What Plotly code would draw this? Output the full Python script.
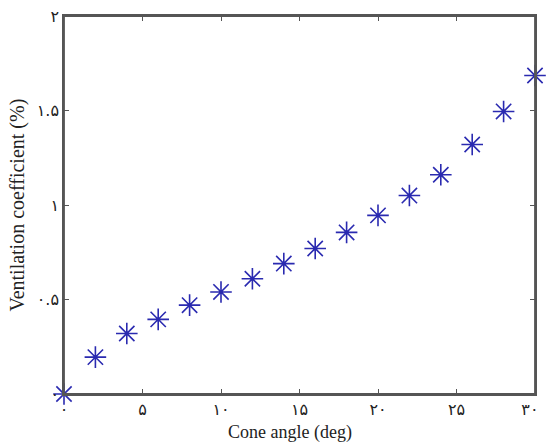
import plotly.graph_objects as go

cone_angle = [0, 2, 4, 6, 8, 10, 12, 14, 16, 18, 20, 22, 24, 26, 28, 30]
vent_coef = [0.0, 0.195, 0.32, 0.395, 0.47, 0.54, 0.61, 0.69, 0.77, 0.855,
             0.945, 1.05, 1.16, 1.32, 1.495, 1.685]

x_tickvals = [0, 5, 10, 15, 20, 25, 30]
x_ticktext = ["۰", "۵", "۱۰", "۱۵", "۲۰", "۲۵", "۳۰\u00a0\u00a0"]
y_tickvals = [0, 0.5, 1, 1.5, 2]
y_ticktext = ["۰", "۰.۵", "۱", "۱.۵", "۲"]

fig = go.Figure()
fig.add_trace(go.Scatter(
    x=cone_angle, y=vent_coef, mode="markers",
    marker=dict(symbol="asterisk-open", size=18, color="#2a2ab0",
                line=dict(color="#2a2ab0", width=1.6)),
    cliponaxis=False, showlegend=False,
))

axis_common = dict(
    showline=True, linecolor="#555555", linewidth=1.5, mirror="ticks",
    ticks="inside", ticklen=5, tickcolor="#555555", tickwidth=1.2,
    showgrid=False, zeroline=False, ticklabeloverflow="allow",
    tickfont=dict(family="DejaVu Sans", size=16, color="#222222"),
)

fig.update_layout(
    width=556, height=445,
    margin=dict(l=64, r=7, t=16, b=51),
    paper_bgcolor="white", plot_bgcolor="white",
    xaxis=dict(range=[0, 30], tickvals=x_tickvals, ticktext=x_ticktext,
               **axis_common),
    yaxis=dict(range=[0, 2], tickvals=y_tickvals, ticktext=y_ticktext,
               **axis_common),
    shapes=[dict(type="rect", xref="paper", yref="paper", x0=0, x1=1, y0=0, y1=1,
                 line=dict(color="#555555", width=1.8), layer="above")],
    annotations=[
        dict(text="Cone angle (deg)", xref="paper", yref="paper", x=0.48, y=-0.101,
             xanchor="center", yanchor="middle", showarrow=False,
             font=dict(family="Liberation Serif", size=18, color="#222222")),
        dict(text="Ventilation coefficient (%)", xref="paper", yref="paper",
             x=-0.072, y=0.5, xanchor="right", yanchor="middle", textangle=-90,
             showarrow=False,
             font=dict(family="Liberation Serif", size=20, color="#222222")),
    ],
)

fig.write_html(
    "out.html",
    config={"displayModeBar": False},
    post_script="document.body.style.margin='0';document.body.style.overflow='hidden';",
)
